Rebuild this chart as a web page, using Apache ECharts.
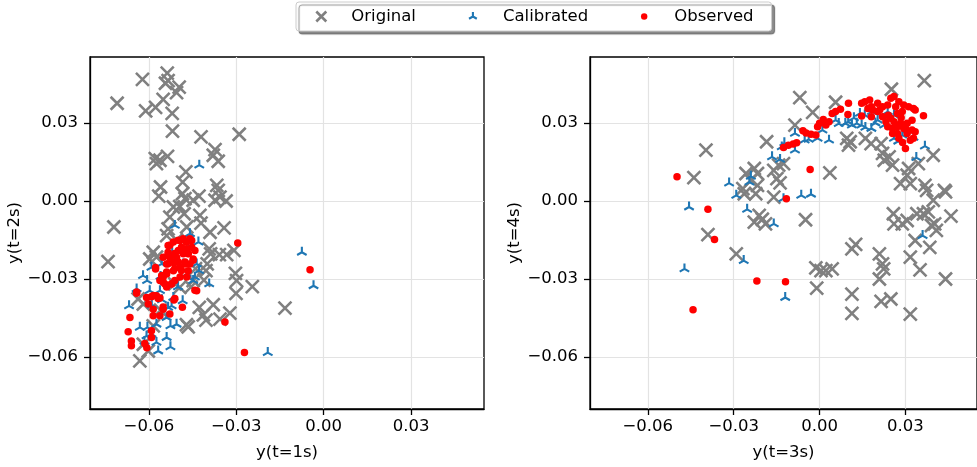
<!DOCTYPE html>
<html><head><meta charset="utf-8">
<script src="https://cdn.jsdelivr.net/npm/echarts@6/dist/echarts.min.js"></script>
<style>html,body{margin:0;padding:0;background:#fff}#c{width:977px;height:467px}</style>
</head><body><div id="c"></div>
<script>
const seriesNames = ['Original', 'Calibrated', 'Observed'];
const axisNames = ['y(t=1s)', 'y(t=2s)', 'y(t=3s)', 'y(t=4s)'];
const tickValues = [-0.06, -0.03, 0.00, 0.03];

const leftOriginal = [[-0.0537,0.0492],[-0.0534,0.0463],[-0.0543,0.0453],[-0.0622,0.0468],[-0.0709,0.0376],[-0.0611,0.0347],[-0.0577,0.0360],[-0.0551,0.0391],[-0.0496,0.0438],[-0.0505,0.0417],[-0.0520,0.0337],[-0.0519,0.0269],[-0.0421,0.0247],[-0.0290,0.0257],[-0.0373,0.0198],[-0.0379,0.0176],[-0.0362,0.0153],[-0.0578,0.0163],[-0.0574,0.0144],[-0.0562,0.0157],[-0.0536,0.0172],[-0.0473,0.0112],[-0.0484,0.0073],[-0.0560,0.0054],[-0.0566,0.0019],[-0.0485,0.0028],[-0.0476,0.0009],[-0.0448,0.0003],[-0.0428,0.0019],[-0.0367,0.0060],[-0.0362,0.0041],[-0.0373,0.0003],[-0.0356,0.0015],[-0.0335,0.0000],[-0.0516,-0.0023],[-0.0494,-0.0021],[-0.0479,-0.0049],[-0.0528,-0.0062],[-0.0425,-0.0055],[-0.0421,-0.0085],[-0.0390,-0.0120],[-0.0342,-0.0103],[-0.0534,-0.0107],[-0.0539,-0.0133],[-0.0720,-0.0100],[-0.0740,-0.0233],[-0.0585,-0.0197],[-0.0574,-0.0216],[-0.0597,-0.0223],[-0.0393,-0.0184],[-0.0388,-0.0203],[-0.0358,-0.0206],[-0.0333,-0.0206],[-0.0308,-0.0190],[-0.0400,-0.0242],[-0.0404,-0.0268],[-0.0303,-0.0278],[-0.0299,-0.0306],[-0.0301,-0.0355],[-0.0245,-0.0329],[-0.0133,-0.0412],[-0.0427,-0.0409],[-0.0413,-0.0438],[-0.0379,-0.0399],[-0.0322,-0.0431],[-0.0356,-0.0454],[-0.0404,-0.0458],[-0.0465,-0.0484],[-0.0471,-0.0476],[-0.0494,-0.0332],[-0.0511,-0.0319],[-0.0637,-0.0377],[-0.0619,-0.0396],[-0.0631,-0.0615],[-0.0619,-0.0551],[-0.0602,-0.0577],[-0.0448,-0.0306],[-0.0411,-0.0304],[-0.0505,-0.0150],[-0.0470,-0.0100],[-0.0440,-0.0260],[-0.0455,-0.0330],[-0.0560,-0.0420],[-0.0585,-0.0480]];

const leftCalibrated = [[-0.0427,0.0138],[-0.0511,-0.0094],[-0.0459,-0.0126],[-0.0430,-0.0158],[-0.0620,-0.0287],[-0.0642,-0.0338],[-0.0668,-0.0403],[-0.0591,-0.0255],[-0.0428,-0.0268],[-0.0393,-0.0319],[-0.0448,-0.0306],[-0.0516,-0.0371],[-0.0522,-0.0403],[-0.0484,-0.0384],[-0.0526,-0.0480],[-0.0574,-0.0544],[-0.0568,-0.0577],[-0.0526,-0.0561],[-0.0605,-0.0486],[-0.0075,-0.0197],[-0.0035,-0.0326],[-0.0192,-0.0583],[-0.0539,-0.0448],[-0.0631,-0.0486],[-0.0591,-0.0512],[-0.0606,-0.0306],[-0.0556,-0.0242],[-0.0534,-0.0409],[-0.0597,-0.0345],[-0.0442,-0.0293],[-0.0482,-0.0242],[-0.0436,-0.0242],[-0.0562,-0.0345],[-0.0574,-0.0474],[-0.0608,-0.0519],[-0.0539,-0.0525],[-0.0505,-0.0474],[-0.0560,-0.0290],[-0.0500,-0.0330],[-0.0470,-0.0280],[-0.0465,-0.0180],[-0.0520,-0.0200],[-0.0590,-0.0400],[-0.0555,-0.0380],[-0.0615,-0.0540]];

const leftObserved = [[-0.0295,-0.0161],[-0.0047,-0.0264],[-0.0339,-0.0465],[-0.0272,-0.0583],[-0.0577,-0.0261],[-0.0642,-0.0355],[-0.0665,-0.0448],[-0.0671,-0.0503],[-0.0660,-0.0538],[-0.0660,-0.0557],[-0.0614,-0.0548],[-0.0607,-0.0564],[-0.0591,-0.0525],[-0.0591,-0.0499],[-0.0585,-0.0416],[-0.0585,-0.0441],[-0.0551,-0.0416],[-0.0562,-0.0441],[-0.0528,-0.0435],[-0.0514,-0.0381],[-0.0485,-0.0409],[-0.0436,-0.0345],[-0.0465,-0.0268],[-0.0608,-0.0371],[-0.0591,-0.0368],[-0.0574,-0.0364],[-0.0562,-0.0373],[-0.0602,-0.0396],[-0.0534,-0.0171],[-0.0516,-0.0158],[-0.0493,-0.0152],[-0.0471,-0.0158],[-0.0453,-0.0152],[-0.0442,-0.0190],[-0.0448,-0.0223],[-0.0459,-0.0242],[-0.0476,-0.0242],[-0.0493,-0.0255],[-0.0516,-0.0268],[-0.0539,-0.0281],[-0.0551,-0.0293],[-0.0562,-0.0306],[-0.0545,-0.0319],[-0.0522,-0.0319],[-0.0511,-0.0306],[-0.0499,-0.0190],[-0.0505,-0.0216],[-0.0482,-0.0203],[-0.0465,-0.0203],[-0.0528,-0.0216],[-0.0539,-0.0242],[-0.0516,-0.0236],[-0.0488,-0.0178],[-0.0471,-0.0184],[-0.0453,-0.0178],[-0.0551,-0.0216],[-0.0534,-0.0197],[-0.0528,-0.0170],[-0.0499,-0.0151],[-0.0482,-0.0145],[-0.0459,-0.0145],[-0.0534,-0.0209],[-0.0511,-0.0202],[-0.0488,-0.0190],[-0.0465,-0.0202],[-0.0448,-0.0228],[-0.0476,-0.0235],[-0.0499,-0.0235],[-0.0534,-0.0241],[-0.0539,-0.0273],[-0.0511,-0.0260],[-0.0488,-0.0267],[-0.0470,-0.0292],[-0.0493,-0.0292],[-0.0556,-0.0286],[-0.0551,-0.0312],[-0.0522,-0.0318],[-0.0539,-0.0331],[-0.0577,-0.0256],[-0.0442,-0.0343],[-0.0642,-0.0350],[-0.0585,-0.0363],[-0.0568,-0.0375],[-0.0511,-0.0375],[-0.0551,-0.0408]];

const rightOriginal = [[0.0366,0.0463],[0.0251,0.0430],[-0.0069,0.0398],[0.0056,0.0380],[-0.0024,0.0341],[-0.0086,0.0292],[-0.0185,0.0228],[-0.0397,0.0196],[-0.0439,0.0090],[-0.0390,-0.0129],[-0.0291,-0.0203],[0.0036,0.0108],[-0.0049,-0.0072],[0.0095,0.0241],[0.0107,0.0228],[0.0101,0.0215],[0.0160,0.0241],[0.0180,0.0221],[0.0215,0.0221],[0.0226,0.0157],[0.0243,0.0170],[0.0255,0.0138],[0.0220,0.0183],[0.0311,0.0125],[0.0306,0.0099],[0.0283,0.0067],[0.0317,0.0067],[0.0345,0.0144],[0.0397,0.0176],[0.0368,0.0060],[0.0374,0.0041],[0.0436,0.0041],[0.0440,0.0035],[0.0397,0.0003],[0.0459,-0.0058],[0.0258,-0.0049],[0.0260,-0.0088],[0.0289,-0.0088],[0.0306,-0.0075],[0.0340,-0.0049],[0.0363,-0.0049],[0.0380,-0.0042],[0.0402,-0.0088],[0.0408,-0.0113],[0.0391,-0.0094],[0.0385,-0.0178],[0.0334,-0.0152],[0.0317,-0.0216],[0.0351,-0.0265],[0.0440,-0.0300],[0.0113,-0.0184],[0.0126,-0.0167],[0.0209,-0.0203],[0.0220,-0.0242],[0.0224,-0.0261],[0.0209,-0.0300],[0.0215,-0.0386],[0.0249,-0.0377],[0.0113,-0.0358],[0.0113,-0.0432],[0.0317,-0.0435],[-0.0013,-0.0257],[0.0005,-0.0268],[0.0022,-0.0268],[0.0044,-0.0261],[-0.0010,-0.0335],[-0.0257,0.0106],[-0.0228,0.0125],[-0.0217,0.0106],[-0.0240,0.0080],[-0.0217,0.0060],[-0.0268,0.0048],[-0.0263,0.0028],[-0.0223,0.0028],[-0.0160,0.0118],[-0.0143,0.0138],[-0.0126,0.0144],[-0.0149,0.0086],[-0.0138,0.0070],[-0.0160,0.0015],[-0.0211,-0.0055],[-0.0228,-0.0081],[-0.0189,-0.0088],[-0.0200,-0.0070]];

const rightCalibrated = [[-0.0456,-0.0023],[-0.0472,-0.0261],[-0.0316,0.0069],[-0.0291,0.0022],[-0.0253,-0.0032],[-0.0265,-0.0229],[-0.0160,-0.0088],[-0.0120,-0.0371],[-0.0126,0.0009],[-0.0064,0.0022],[-0.0030,0.0026],[-0.0240,0.0095],[-0.0245,0.0073],[-0.0166,0.0170],[-0.0138,0.0160],[-0.0132,0.0208],[-0.0123,0.0224],[-0.0086,0.0196],[-0.0086,0.0260],[-0.0052,0.0234],[-0.0038,0.0237],[-0.0007,0.0241],[0.0033,0.0234],[0.0056,0.0311],[0.0067,0.0298],[0.0010,0.0273],[0.0090,0.0299],[0.0113,0.0292],[0.0130,0.0299],[0.0147,0.0292],[0.0160,0.0283],[0.0181,0.0279],[0.0141,0.0337],[0.0158,0.0331],[0.0183,0.0344],[0.0203,0.0311],[0.0226,0.0292],[0.0238,0.0344],[0.0260,0.0331],[0.0260,0.0241],[0.0289,0.0254],[0.0306,0.0273],[0.0328,0.0245],[0.0338,0.0167],[0.0368,0.0211],[0.0360,-0.0133],[0.0120,0.0320],[0.0195,0.0300],[0.0275,0.0230],[0.0100,0.0305]];

const rightObserved = [[-0.0498,0.0093],[-0.0390,-0.0032],[-0.0367,-0.0148],[-0.0442,-0.0418],[-0.0219,-0.0308],[-0.0119,-0.0311],[-0.0116,0.0009],[-0.0033,0.0121],[-0.0126,0.0206],[-0.0109,0.0215],[-0.0092,0.0219],[-0.0080,0.0224],[-0.0058,0.0270],[-0.0047,0.0262],[-0.0030,0.0257],[-0.0013,0.0254],[-0.0007,0.0286],[0.0000,0.0299],[0.0013,0.0314],[0.0022,0.0292],[0.0033,0.0305],[0.0044,0.0337],[0.0056,0.0344],[0.0073,0.0353],[0.0101,0.0376],[0.0099,0.0333],[0.0147,0.0327],[0.0147,0.0376],[0.0158,0.0382],[0.0175,0.0389],[0.0181,0.0363],[0.0203,0.0376],[0.0220,0.0363],[0.0238,0.0369],[0.0249,0.0395],[0.0260,0.0402],[0.0277,0.0382],[0.0294,0.0369],[0.0311,0.0363],[0.0328,0.0356],[0.0334,0.0350],[0.0363,0.0328],[0.0323,0.0311],[0.0306,0.0299],[0.0283,0.0299],[0.0272,0.0286],[0.0255,0.0279],[0.0238,0.0286],[0.0232,0.0305],[0.0249,0.0318],[0.0294,0.0279],[0.0306,0.0260],[0.0323,0.0273],[0.0334,0.0266],[0.0328,0.0241],[0.0317,0.0234],[0.0300,0.0202],[0.0277,0.0241],[0.0272,0.0260],[0.0260,0.0305],[0.0220,0.0324],[0.0203,0.0344],[0.0181,0.0324],[0.0289,0.0344],[0.0272,0.0337],[0.0266,0.0363],[0.0169,0.0356],[0.0186,0.0350],[0.0240,0.0330],[0.0285,0.0320],[0.0300,0.0280],[0.0255,0.0260],[0.0290,0.0225],[0.0210,0.0350]];

const FONT = 'DejaVu Sans';
const GRAY = '#808080', BLUE = '#1f77b4', RED = '#ff0000';
const xPath = 'path://M0 0L10 10M10 0L0 10';
const triPath = 'path://M-10 -10M10 10M0 0L0 -10M0 0L-8.66 5M0 0L8.66 5';
const fmt = v => { const s = (Math.abs(v) < 1e-9 ? 0 : v).toFixed(2); return s.replace('-', '\u2212'); };
const axisLineCfg = { show: true, onZero: false, lineStyle: { color: '#000', width: 1.3 } };

function makeX(gi, name) {
  return {
    type: 'value', gridIndex: gi, min: -0.0802, max: 0.055,
    name: name, nameLocation: 'middle', nameGap: 35,
    nameTextStyle: { fontFamily: FONT, fontSize: 16.5, color: '#000' },
    axisLine: axisLineCfg,
    axisTick: { show: true, inside: false, length: 6, customValues: tickValues, lineStyle: { color: '#000', width: 1.3 } },
    axisLabel: { customValues: tickValues, formatter: fmt, fontFamily: FONT, fontSize: 16.5, color: '#000', margin: 9 },
    splitLine: { show: true, lineStyle: { color: '#e3e3e3', width: 1.2 } }
  };
}
function makeY(gi, name) {
  return {
    type: 'value', gridIndex: gi, min: -0.080, max: 0.0554,
    name: name, nameLocation: 'middle', nameGap: 64,
    nameTextStyle: { fontFamily: FONT, fontSize: 16.5, color: '#000' },
    axisLine: axisLineCfg,
    axisTick: { show: true, inside: false, length: 6, customValues: tickValues, lineStyle: { color: '#000', width: 1.3 } },
    axisLabel: { customValues: tickValues, formatter: fmt, fontFamily: FONT, fontSize: 16.5, color: '#000', margin: 12 },
    splitLine: { show: true, lineStyle: { color: '#e3e3e3', width: 1.2 } }
  };
}
function mk(name, data, gi) {
  const base = { name: name, type: 'scatter', xAxisIndex: gi, yAxisIndex: gi, data: data, silent: true };
  if (name === 'Original') return Object.assign(base, { symbol: xPath, symbolSize: 13, itemStyle: { color: 'transparent', borderColor: GRAY, borderWidth: 2.6, opacity: 1 }, z: 2 });
  if (name === 'Calibrated') return Object.assign(base, { symbol: triPath, symbolSize: 11, itemStyle: { color: 'transparent', borderColor: BLUE, borderWidth: 2.1, opacity: 1 }, z: 3 });
  return Object.assign(base, { symbol: 'circle', symbolSize: 7.5, itemStyle: { color: RED, borderWidth: 0, opacity: 1 }, z: 4 });
}

const chart = echarts.init(document.getElementById('c'), null, { renderer: 'canvas' });
chart.setOption({
  animation: false,
  backgroundColor: '#fff',
  grid: [
    { left: 90, top: 57, width: 394, height: 352, show: true, borderColor: '#000', borderWidth: 1.3, backgroundColor: 'transparent' },
    { left: 590, top: 57, width: 394, height: 352, show: true, borderColor: '#000', borderWidth: 1.3, backgroundColor: 'transparent' }
  ],
  xAxis: [makeX(0, axisNames[0]), makeX(1, axisNames[2])],
  yAxis: [makeY(0, axisNames[1]), makeY(1, axisNames[3])],
  legend: {
    left: 296, top: 2, orient: 'horizontal',
    padding: [6, 18, 6, 17], itemGap: 49, itemWidth: 14, itemHeight: 14,
    backgroundColor: '#fff', borderColor: '#cccccc', borderWidth: 1, borderRadius: 3,
    shadowColor: 'rgba(0,0,0,0.45)', shadowBlur: 1, shadowOffsetX: 3, shadowOffsetY: 3,
    textStyle: { fontFamily: FONT, fontSize: 16.5, color: '#000', padding: [0, 0, 0, 18] },
    data: [
      { name: seriesNames[0], icon: 'path://M0 0M14 14M2 2L12 12M12 2L2 12', itemStyle: { color: 'transparent', borderColor: GRAY, borderWidth: 2.6 } },
      { name: seriesNames[1], icon: 'path://M0 0M14 14M7 7L7 2.5M7 7L3.1 9.25M7 7L10.9 9.25', itemStyle: { color: 'transparent', borderColor: BLUE, borderWidth: 2.1 } },
      { name: seriesNames[2], icon: 'path://M0 0M14 14M3.8 7A3.2 3.2 0 1 0 10.2 7A3.2 3.2 0 1 0 3.8 7Z', itemStyle: { color: RED, borderWidth: 0 } }
    ]
  },
  series: [
    mk('Original', leftOriginal, 0), mk('Calibrated', leftCalibrated, 0), mk('Observed', leftObserved, 0),
    mk('Original', rightOriginal, 1), mk('Calibrated', rightCalibrated, 1), mk('Observed', rightObserved, 1)
  ]
});
</script></body></html>
